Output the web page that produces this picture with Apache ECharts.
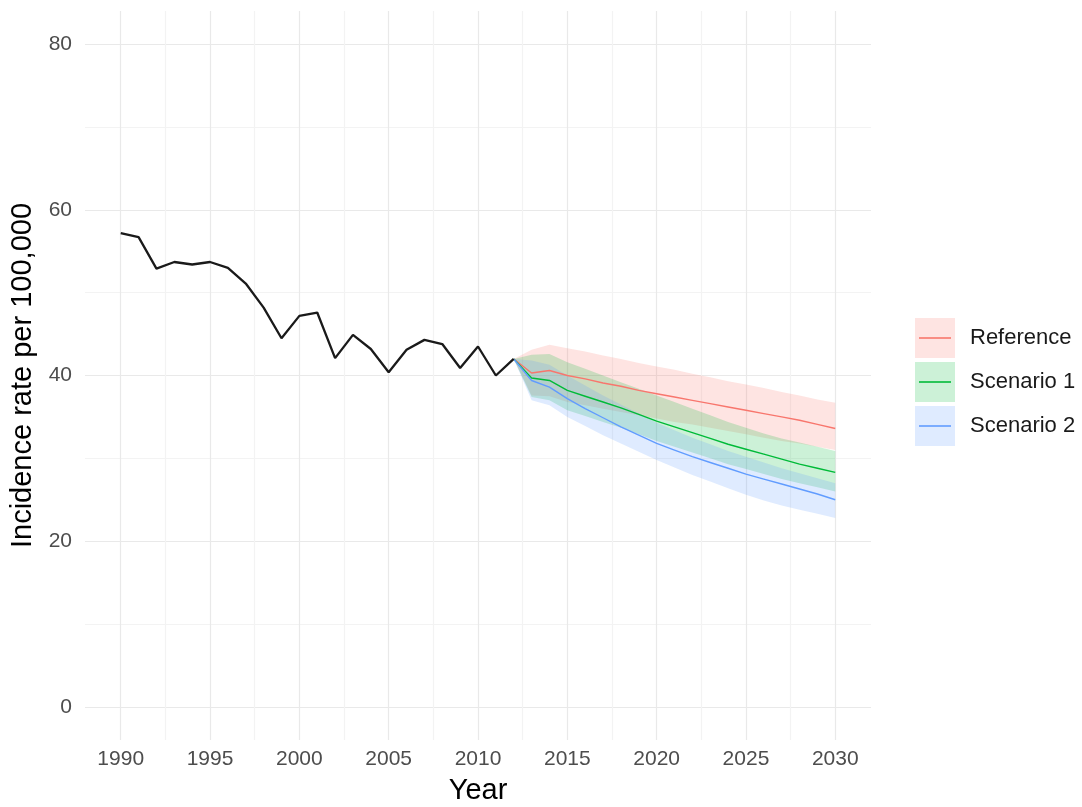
<!DOCTYPE html>
<html>
<head>
<meta charset="utf-8">
<script src="https://cdn.jsdelivr.net/npm/echarts@6/dist/echarts.min.js"></script>
<style>
  html, body { margin: 0; padding: 0; background: #fff; }
  #chart { width: 1082px; height: 807px; }
</style>
</head>
<body>
<div id="chart"></div>
<script>
// observed incidence 1990-2012
var histYears = [1990, 1991, 1992, 1993, 1994, 1995, 1996, 1997, 1998, 1999, 2000, 2001,
  2002, 2003, 2004, 2005, 2006, 2007, 2008, 2009, 2010, 2011, 2012]
var histRate = [57.2, 56.7, 52.9, 53.7, 53.4, 53.7, 53.0, 51.1, 48.2, 44.5, 47.2, 47.6,
  42.1, 44.9, 43.2, 40.4, 43.1, 44.3, 43.8, 40.9, 43.5, 40.0, 42.0]

// projections 2012-2030
var projYears = [2012, 2013, 2014, 2015, 2016, 2017, 2018, 2019, 2020, 2021, 2022,
  2023, 2024, 2025, 2026, 2027, 2028, 2029, 2030]
var refMid = [42.0, 40.3, 40.6, 40.0, 39.6, 39.1, 38.7, 38.2, 37.8, 37.4, 37.0, 36.6, 36.2, 35.8, 35.4, 35.0, 34.6, 34.1, 33.6]
var refLow = [42.0, 37.6, 37.5, 36.8, 36.4, 36.0, 35.6, 35.2, 34.8, 34.4, 34.1, 33.7, 33.3, 32.9, 32.5, 32.1, 31.8, 31.4, 31.0]
var refHigh = [42.0, 43.1, 43.7, 43.3, 42.9, 42.4, 42.0, 41.5, 41.1, 40.7, 40.2, 39.8, 39.3, 38.9, 38.5, 38.0, 37.6, 37.1, 36.7]
var s1Mid = [42.0, 39.7, 39.4, 38.2, 37.5, 36.8, 36.1, 35.3, 34.5, 33.8, 33.1, 32.4, 31.7, 31.1, 30.5, 29.9, 29.3, 28.8, 28.3]
var s1Low = [42.0, 37.4, 37.0, 35.8, 35.1, 34.4, 33.7, 32.9, 32.1, 31.4, 30.7, 30.0, 29.3, 28.7, 28.1, 27.5, 27.0, 26.5, 26.0]
var s1High = [42.0, 42.5, 42.6, 41.6, 40.8, 40.0, 39.2, 38.4, 37.6, 36.8, 36.0, 35.2, 34.4, 33.7, 33.0, 32.4, 31.9, 31.4, 30.9]
var s2Mid = [42.0, 39.4, 38.6, 37.2, 36.0, 34.9, 33.8, 32.8, 31.8, 31.0, 30.2, 29.5, 28.8, 28.1, 27.5, 26.9, 26.3, 25.7, 25.0]
var s2Low = [42.0, 37.0, 36.4, 35.0, 33.9, 32.8, 31.8, 30.8, 29.8, 28.9, 28.0, 27.2, 26.4, 25.6, 24.9, 24.3, 23.8, 23.3, 22.8]
var s2High = [42.0, 41.8, 41.3, 40.0, 38.8, 37.6, 36.5, 35.4, 34.3, 33.4, 32.5, 31.7, 30.9, 30.2, 29.5, 28.8, 28.2, 27.6, 27.0]

// axes
var xLabels = [1990, 1995, 2000, 2005, 2010, 2015, 2020, 2025, 2030]
var xGrid = [1990, 1992.5, 1995, 1997.5, 2000, 2002.5, 2005, 2007.5, 2010, 2012.5,
  2015, 2017.5, 2020, 2022.5, 2025, 2027.5, 2030]
var yLabels = [0, 20, 40, 60, 80]
var yGrid = [0, 10, 20, 30, 40, 50, 60, 70, 80]

var scenarios = ['Reference', 'Scenario 1', 'Scenario 2']
var lineColors = ['#F8766D', '#00BA38', '#619CFF']
var fillColors = ['rgba(248,118,109,0.2)', 'rgba(0,186,56,0.2)', 'rgba(97,156,255,0.2)']

var FONT = '"Liberation Sans", Arial, sans-serif'

function pairs (xs, ys) {
  return xs.map(function (x, i) { return [x, ys[i]] })
}

function bandSeries (name, low, high, fill) {
  return {
    name: name,
    type: 'custom',
    silent: true,
    encode: { x: 0, y: [1, 2] },
    data: projYears.map(function (y, i) { return [y, low[i], high[i]] }),
    renderItem: function (params, api) {
      if (params.dataIndex !== 0) return
      var pts = []
      for (var i = 0; i < projYears.length; i++) pts.push(api.coord([projYears[i], high[i]]))
      for (var j = projYears.length - 1; j >= 0; j--) pts.push(api.coord([projYears[j], low[j]]))
      return { type: 'polygon', shape: { points: pts }, style: { fill: fill } }
    },
    z: 1
  }
}

function lineSeries (name, values, color) {
  return {
    name: name,
    type: 'line',
    data: pairs(projYears, values),
    showSymbol: false,
    lineStyle: { color: color, width: 1.4 },
    itemStyle: { color: color },
    z: 3
  }
}

function legendIcon (fill, stroke) {
  var svg = '<svg xmlns="http://www.w3.org/2000/svg" width="40" height="40">' +
    '<rect x="0" y="0" width="40" height="40" fill="' + fill + '"/>' +
    '<line x1="4" y1="20" x2="36" y2="20" stroke="' + stroke + '" stroke-width="1.6"/></svg>'
  return 'image://data:image/svg+xml;charset=utf-8,' + encodeURIComponent(svg)
}

var chart = echarts.init(document.getElementById('chart'), null, { renderer: 'canvas' })

var series = [
  bandSeries('Reference band', refLow, refHigh, fillColors[0]),
  bandSeries('Scenario 1 band', s1Low, s1High, fillColors[1]),
  bandSeries('Scenario 2 band', s2Low, s2High, fillColors[2]),
  {
    name: 'Observed',
    type: 'line',
    data: pairs(histYears, histRate),
    showSymbol: false,
    lineStyle: { color: '#1a1a1a', width: 2.3 },
    itemStyle: { color: '#1a1a1a' },
    z: 4
  },
  lineSeries(scenarios[0], refMid, lineColors[0]),
  lineSeries(scenarios[1], s1Mid, lineColors[1]),
  lineSeries(scenarios[2], s2Mid, lineColors[2])
]

chart.setOption({
  animation: false,
  backgroundColor: '#fff',
  grid: { left: 85, right: 211, top: 11, bottom: 67, containLabel: false, outerBoundsMode: 'none' },
  legend: {
    orient: 'vertical',
    left: 915,
    top: 318,
    padding: 0,
    itemWidth: 40,
    itemHeight: 40,
    itemGap: 4,
    selectedMode: false,
    data: scenarios.map(function (s, i) {
      return { name: s, icon: legendIcon(fillColors[i], lineColors[i]) }
    }),
    textStyle: { fontFamily: FONT, fontSize: 22, color: '#1a1a1a', padding: [0, 0, 0, 10] }
  },
  xAxis: {
    type: 'value',
    min: 1988,
    max: 2032,
    name: 'Year',
    nameLocation: 'middle',
    nameGap: 36,
    nameTextStyle: { fontFamily: FONT, fontSize: 29, color: '#000' },
    axisLine: { show: false },
    axisTick: { show: false, customValues: xGrid },
    axisLabel: {
      customValues: xLabels,
      formatter: function (v) { return String(v) },
      fontFamily: FONT,
      fontSize: 21,
      color: '#4d4d4d',
      margin: 9
    },
    splitLine: { show: true, lineStyle: { color: ['#e9e9e9', '#f3f3f3'], width: 1.2 } }
  },
  yAxis: {
    type: 'value',
    min: -4,
    max: 84,
    name: 'Incidence rate per 100,000',
    nameLocation: 'middle',
    nameGap: 43,
    nameTextStyle: { fontFamily: FONT, fontSize: 29, color: '#000' },
    axisLine: { show: false },
    axisTick: { show: false, customValues: yGrid },
    axisLabel: {
      customValues: yLabels,
      fontFamily: FONT,
      fontSize: 21,
      color: '#4d4d4d',
      margin: 13
    },
    splitLine: { show: true, lineStyle: { color: ['#e9e9e9', '#f3f3f3'], width: 1.2 } }
  },
  series: series
})
</script>
</body>
</html>
